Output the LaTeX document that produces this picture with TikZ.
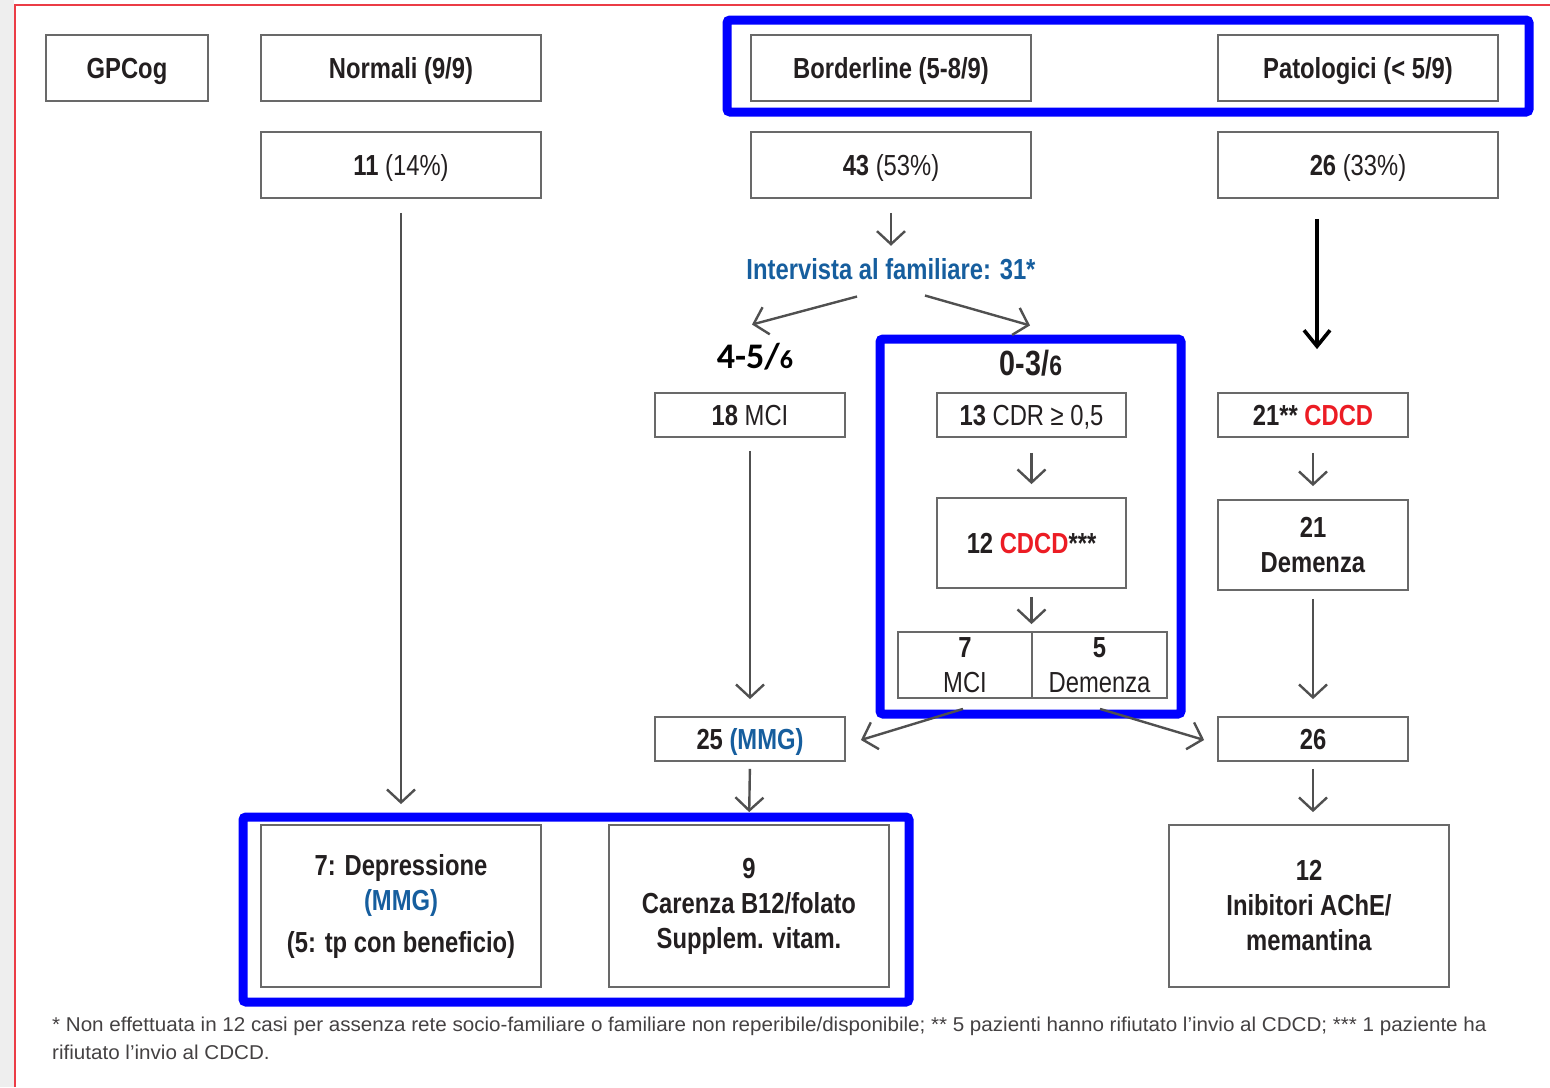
\documentclass[tikz,border=0pt]{standalone}
\usepackage{fontspec}
\setmainfont{Liberation Sans}[FakeStretch=0.82]
\newfontfamily\calib{Carlito}
\newfontfamily\footfont{Liberation Sans}[FakeStretch=1.03]
\usetikzlibrary{arrows.meta,calc}
\definecolor{boxgray}{RGB}{105,105,105}
\definecolor{arrgray}{RGB}{80,80,80}
\definecolor{txtblue}{RGB}{22,94,158}
\definecolor{txtred}{RGB}{236,28,36}
\definecolor{frameblue}{RGB}{0,0,255}
\definecolor{txtblack}{RGB}{35,31,32}
\definecolor{bordred}{RGB}{235,60,70}
\definecolor{stripgray}{RGB}{238,238,238}
\begin{document}
\begin{tikzpicture}[x=1pt,y=-1pt,
  box/.style={draw=boxgray, line width=1.8pt, minimum width=280pt, minimum height=66pt,
    inner sep=0pt, align=center, font=\fontsize{29}{35}\selectfont, text=txtblack},
  onebox/.style={box, text depth=0pt},
  sbox/.style={onebox, minimum width=190pt, minimum height=44pt},
  plain/.style={inner sep=0pt, text=txtblack, font=\fontsize{29}{35}\selectfont},
  arr/.style={draw=arrgray, line width=2.4pt, -{Straight Barb[length=13pt,width=28pt]}},
  blackarr/.style={draw=black, line width=3.6pt, -{Straight Barb[length=16pt,width=26pt]}},
  bluerect/.style={draw=frameblue, line width=9pt, rounded corners=3pt}
]
\useasboundingbox (0,0) rectangle (1550,1087);
% page frame
\fill[stripgray] (0,0) rectangle (14,1087);
\draw[bordred, line width=1.3pt] (15,1087) -- (15,5) -- (1550,5);

% header row
\node[onebox, minimum width=162pt] (gpcog) at (127,68) {\textbf{GPCog}};
\node[onebox] (normali) at (401,68) {\textbf{Normali (9/9)}};
\node[onebox] (border) at (891,68) {\textbf{Borderline (5-8/9)}};
\node[onebox] (patol) at (1358,68) {\textbf{Patologici (< 5/9)}};

% counts
\node[onebox] (n11) at (401,165) {\textbf{11} (14\%)};
\node[onebox] (n43) at (891,165) {\textbf{43} (53\%)};
\node[onebox] (n26) at (1358,165) {\textbf{26} (33\%)};

% interview
\node[plain, anchor=base, text=txtblue] (interv) at (891,279) {\textbf{Intervista al familiare: 31*}};
\node[inner sep=0pt, anchor=base, font=\calib\bfseries\fontsize{36}{38}\selectfont] (lab45) at (755,368)
  {4-5/{\fontsize{26}{28}\selectfont 6}};
\node[plain, anchor=base, font=\bfseries\fontsize{35}{38}\selectfont] (lab03) at (1031,375)
  {0-3/{\fontsize{28}{30}\selectfont 6}};

% middle row
\node[sbox] (mci18) at (750,415) {\textbf{18} MCI};
\node[sbox, minimum width=189pt] (cdr13) at (1031.5,415) {\textbf{13} CDR ≥ 0,5};
\node[sbox] (cdcd21) at (1313,415) {\textbf{21** \textcolor{txtred}{CDCD}}};
\node[onebox, minimum width=189pt, minimum height=90pt] (cdcd12) at (1031.5,543) {\textbf{12 \textcolor{txtred}{CDCD}***}};
\node[box, minimum width=190pt, minimum height=90pt] (dem21) at (1313,545) {\textbf{21}\\\textbf{Demenza}};
\node[box, minimum width=134pt] (mci7) at (965,665) {\textbf{7}\\MCI};
\node[box, minimum width=135pt] (dem5) at (1099.5,665) {\textbf{5}\\Demenza};
\node[sbox] (mmg25) at (750,739) {\textbf{25 \textcolor{txtblue}{(MMG)}}};
\node[sbox] (n26b) at (1313,739) {\textbf{26}};

% bottom row
\node[box, minimum height=162pt] (dep7) at (401,906)
  {\textbf{7: Depressione}\\\textbf{\textcolor{txtblue}{(MMG)}}\\[7pt]\textbf{(5: tp con beneficio)}};
\node[box, minimum height=162pt] (car9) at (749,906)
  {\textbf{9}\\\textbf{Carenza B12/folato}\\\textbf{Supplem. vitam.}};
\node[box, minimum height=162pt] (ini12) at (1309,906)
  {\textbf{12}\\\textbf{Inibitori AChE/}\\\textbf{memantina}};

% blue frames
\draw[bluerect] (727,20) rectangle (1529,112);
\draw[bluerect] (880,339) rectangle (1181,714);
\draw[bluerect] (243,817) rectangle (909,1002);

% connectors
\draw[arr, shorten <=14pt, shorten >=20pt] (n11.south) -- (dep7.north);
\draw[arr, shorten <=14pt, shorten >=12pt] (n43.south) -- (interv.north);
\draw[arr] ($(interv.south)+(-34,17)$) -- ($(lab45.north)+(-3,-18)$);
\draw[arr] ($(interv.south)+(34,16)$) -- ($(lab03.north)+(-1,-24)$);
\draw[blackarr] ($(n26.south)+(-41,20)$) -- ($(cdcd21.north)+(4,-43)$);
\draw[arr, shorten <=13pt, shorten >=17pt] (mci18.south) -- (mmg25.north);
\draw[arr, shorten <=15pt, shorten >=13pt] (cdr13.south) -- (cdcd12.north);
\draw[arr, shorten <=8pt, shorten >=7pt] (cdcd12.south) -- (cdcd12.south |- mci7.north);
\draw[arr, shorten <=15pt, shorten >=13pt] (cdcd21.south) -- (dem21.north);
\draw[arr, shorten <=8pt, shorten >=17pt] (dem21.south) -- (n26b.north);
\draw[arr] ($(mci7.south)+(-2,10)$) -- ($(mmg25.east)+(15,1)$);
\draw[arr] ($(dem5.south)+(0.5,10)$) -- ($(n26b.west)+(-13,1)$);
\draw[arr, shorten <=7pt, shorten >=12pt] (mmg25.south) -- (car9.north);
\draw[arr, shorten <=7pt, shorten >=12pt] (n26b.south) -- (n26b.south |- ini12.north);

% footnote
\node[anchor=north west, inner sep=0pt, align=left, text=txtblack!85,
  font=\footfont\fontsize{20}{28}\selectfont] (foot) at (52,1017)
  {* Non effettuata in 12 casi per assenza rete socio-familiare o familiare non reperibile/disponibile; ** 5 pazienti hanno rifiutato l’invio al CDCD; *** 1 paziente ha\\
   rifiutato l’invio al CDCD.};
\end{tikzpicture}
\end{document}
